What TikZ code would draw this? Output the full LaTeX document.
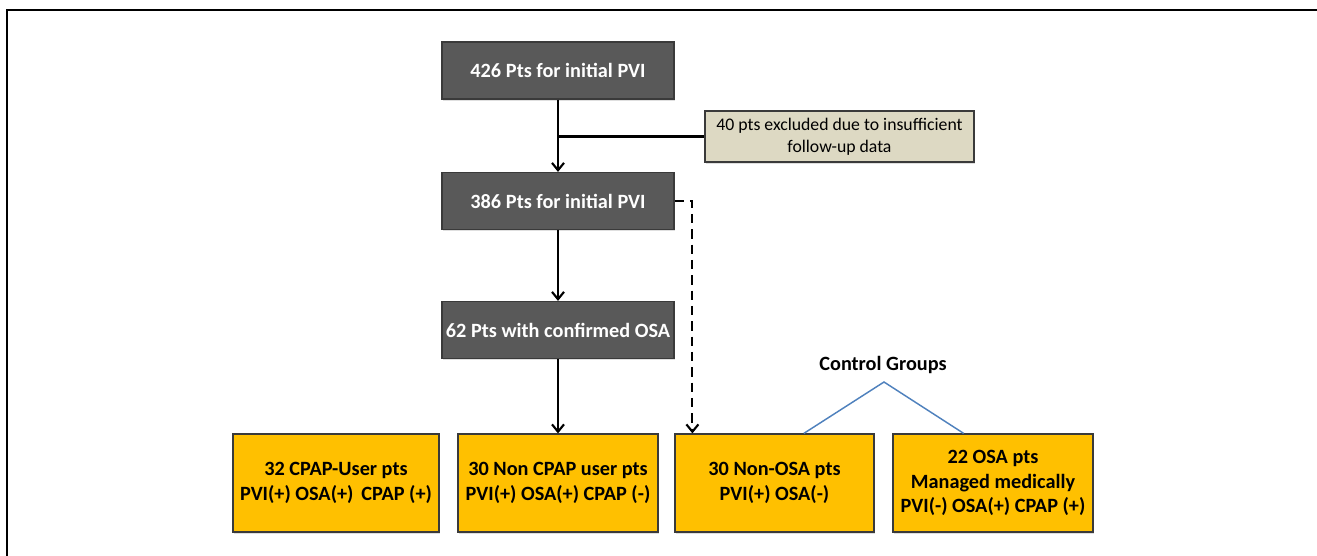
\documentclass[tikz,border=0pt]{standalone}
\usepackage{fontspec}
\setmainfont{Carlito}
\usetikzlibrary{arrows.meta,shadows}
\definecolor{darkfill}{HTML}{595959}
\definecolor{darkedge}{HTML}{3A3A3A}
\definecolor{tanfill}{HTML}{DDD9C3}
\definecolor{goldfill}{HTML}{FFC000}
\definecolor{lineblue}{HTML}{4F81BD}
\tikzset{
  shade/.style={drop shadow={opacity=0.25,shadow xshift=0.9pt,shadow yshift=-1.2pt}},
  darkbox/.style={draw=darkedge,fill=darkfill,line width=0.9pt,text=white,shade,
    minimum width=174pt,minimum height=42.75pt,inner sep=0pt,align=center,
    font=\bfseries\fontsize{15.2}{18.75}\selectfont},
  exbox/.style={draw=darkedge,fill=tanfill,line width=0.9pt,shade,
    minimum width=201.75pt,minimum height=38.25pt,inner sep=0pt,align=center,
    font=\fontsize{13.3}{16.3}\selectfont},
  goldbox/.style={draw=darkedge,fill=goldfill,line width=0.9pt,shade,
    minimum height=73.5pt,inner sep=0pt,align=center,
    font=\bfseries\fontsize{15.2}{18.6}\selectfont},
  flow/.style={line width=1.6pt,-{Straight Barb[length=5.5pt,width=9pt,line width=1.6pt]}},
  flowdash/.style={flow,dash pattern=on 7pt off 4.5pt},
  plain/.style={line width=1.6pt},
  bluel/.style={draw=lineblue,line width=1.1pt},
  frame/.style={line width=1.6pt}
}
\begin{document}
\begin{tikzpicture}[x=0.75pt,y=-0.75pt]
\useasboundingbox (0,0) rectangle (1317,556);
% frame (top and left only)
\coordinate (f1) at (1317,10);
\coordinate (f2) at (7,10);
\coordinate (f3) at (7,556);
\draw[frame] (f1) -- (f2) -- (f3);

\node[darkbox] (b1) at (558,70.5) {426 Pts for initial PVI};
\node[darkbox] (b2) at (558,201) {386 Pts for initial PVI};
\node[darkbox] (b3) at (558,330) {62 Pts with confirmed OSA};
\node[exbox] (ex) at (839.5,136.5) {40 pts excluded due to insufficient\\follow-up data};

\node[goldbox,minimum width=154.5pt] (ga) at (336,483) {32 CPAP-User pts\\PVI(+) OSA(+)\, CPAP (+)};
\node[goldbox,minimum width=150pt] (gb) at (558,483) {30 Non CPAP user pts\\PVI(+) OSA(+) CPAP (-)};
\node[goldbox,minimum width=149.25pt] (gc) at (774.5,483) {30 Non-OSA pts\\PVI(+) OSA(-)};
\node[goldbox,minimum width=150pt] (gd) at (993,483) {22 OSA pts\\Managed medically\\PVI(-) OSA(+) CPAP (+)};

\node[font=\bfseries\fontsize{15.2}{18}\selectfont,inner sep=0pt] (cg) at (883,365) {Control Groups};

% connectors
\draw[flow] (b1) -- (b2);
\draw[plain] (b1.south |- ex.west) -- (ex.west);
\draw[flow] (b2) -- (b3);
\draw[flow] (b3) -- (gb);
\coordinate (dc) at ([xshift=13.5pt]gc.north west);
\draw[flowdash] (b2.east) -| (dc);
\coordinate (apex) at (884,382);
\coordinate (cl) at ([xshift=22pt]gc.north);
\coordinate (cr) at ([xshift=-22pt]gd.north);
\draw[bluel] (cl) -- (apex) -- (cr);
\end{tikzpicture}
\end{document}
